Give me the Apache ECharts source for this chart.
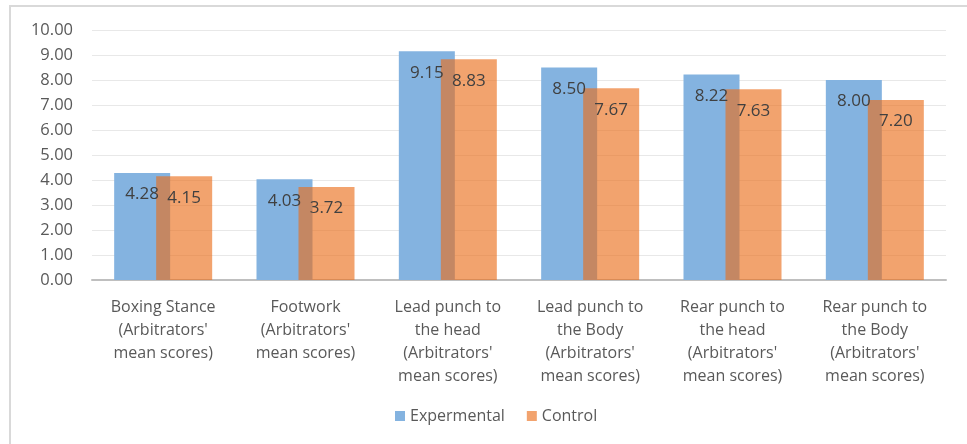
<!DOCTYPE html>
<html>
<head>
<meta charset="utf-8">
<script src="https://cdn.jsdelivr.net/npm/echarts@6/dist/echarts.min.js"></script>
<style>
html,body{margin:0;padding:0;background:#fff;}
#chart{width:967px;height:444px;}
</style>
</head>
<body>
<div id="chart"></div>
<script>
var categories = [
  "Boxing Stance\n(Arbitrators'\nmean scores)",
  "Footwork\n(Arbitrators'\nmean scores)",
  "Lead punch to\nthe head\n(Arbitrators'\nmean scores)",
  "Lead punch to\nthe Body\n(Arbitrators'\nmean scores)",
  "Rear punch to\nthe head\n(Arbitrators'\nmean scores)",
  "Rear punch to\nthe Body\n(Arbitrators'\nmean scores)"
];
var experimental = [4.28, 4.03, 9.15, 8.50, 8.22, 8.00];
var control = [4.15, 3.72, 8.83, 7.67, 7.63, 7.20];
var seriesNames = ["Expermental", "Control"];

var FONT = "'Open Sans', 'Noto Sans', sans-serif";
var chart = echarts.init(document.getElementById('chart'), null, {renderer: 'canvas'});
var labelCfg = {
  show: true, position: 'insideTop', distance: 13,
  formatter: function(p){ return p.value.toFixed(2); },
  fontSize: 17, color: '#404040', fontFamily: FONT
};
chart.setOption({
  animation: false,
  backgroundColor: '#fff',
  graphic: [{
    type: 'rect', shape: {x: 10, y: 6, width: 1000, height: 500},
    style: {fill: 'none', stroke: '#d9d9d9', lineWidth: 2}, silent: true, z: -10
  }],
  grid: {left: 92, right: 21, top: 30, bottom: 164, containLabel: false},
  legend: {
    data: seriesNames, bottom: 15, left: 390, itemWidth: 10, itemHeight: 10, itemGap: 22,
    icon: 'rect',
    textStyle: {fontSize: 16, color: '#595959', fontFamily: FONT}
  },
  xAxis: {
    type: 'category', data: categories,
    axisLine: {lineStyle: {color: '#bfbfbf', width: 2}},
    axisTick: {show: false},
    axisLabel: {interval: 0, fontSize: 16, color: '#595959', fontFamily: FONT, lineHeight: 23, margin: 16}
  },
  yAxis: {
    type: 'value', min: 0, max: 10, interval: 1,
    axisLine: {show: false}, axisTick: {show: false},
    splitLine: {lineStyle: {color: '#e8e8e8', width: 1}},
    axisLabel: {fontSize: 16.5, color: '#595959', fontFamily: FONT, margin: 19,
      formatter: function(v){ return v.toFixed(2); }}
  },
  series: [
    {name: seriesNames[0], type: 'bar', data: experimental, barWidth: 56, barGap: '-25%',
     itemStyle: {color: '#84b3e0'}, label: labelCfg},
    {name: seriesNames[1], type: 'bar', data: control, barWidth: 56,
     itemStyle: {color: 'rgba(234,110,25,0.63)'}, label: labelCfg}
  ]
});
</script>
</body>
</html>
